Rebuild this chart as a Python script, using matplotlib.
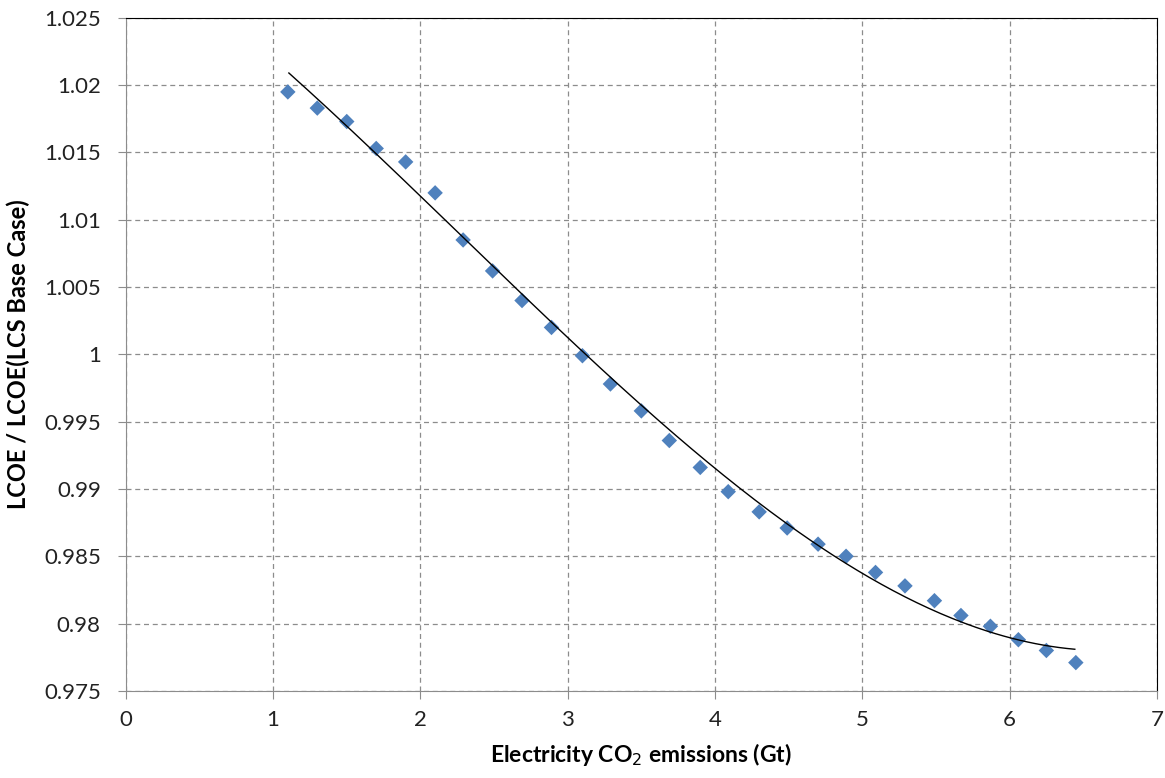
import numpy as np
import matplotlib.pyplot as plt

plt.rcParams['font.family'] = ['Lato', 'DejaVu Sans']

# emissions (Gt) and relative LCOE
emissions = [1.10, 1.30, 1.50, 1.70, 1.90, 2.10, 2.29, 2.49, 2.69, 2.89,
             3.10, 3.29, 3.50, 3.69, 3.90, 4.09, 4.30, 4.49, 4.70, 4.89,
             5.09, 5.29, 5.49, 5.67, 5.87, 6.06, 6.25, 6.45]
lcoe_ratio = [1.0195, 1.0183, 1.0173, 1.0153, 1.0143, 1.0120, 1.0085, 1.0062,
              1.0040, 1.0020, 0.9999, 0.9978, 0.9958, 0.9936, 0.9916, 0.9898,
              0.9883, 0.9871, 0.9859, 0.9850, 0.9838, 0.9828, 0.9817, 0.9806,
              0.9798, 0.9788, 0.9780, 0.9771]

# trendline values
trend_x = [1.107, 1.996, 2.539, 3.44, 3.897, 4.90, 5.594, 6.443]
trend_y = [1.0209, 1.0118, 1.0061, 0.9968, 0.9924, 0.9845, 0.9804, 0.9781]

x_ticks = [0, 1, 2, 3, 4, 5, 6, 7]
y_ticks = [0.975, 0.98, 0.985, 0.99, 0.995, 1, 1.005, 1.01, 1.015, 1.02, 1.025]
y_labels = ['0.975', '0.98', '0.985', '0.99', '0.995', '1', '1.005', '1.01',
            '1.015', '1.02', '1.025']

fig = plt.figure(figsize=(11.65, 7.78), dpi=100)
ax = fig.add_axes([0.108, 0.112, 0.885, 0.865])

ax.scatter(emissions, lcoe_ratio, marker='D', s=62, color='#4F81BD',
           edgecolors='none', zorder=3)

# polynomial trendline through the curve readings
coef = np.polyfit(trend_x, trend_y, 3)
xs = np.linspace(trend_x[0], trend_x[-1], 200)
ax.plot(xs, np.polyval(coef, xs), color='black', lw=1, zorder=4)

ax.set_xlim(0, 7)
ax.set_ylim(0.975, 1.025)
ax.set_xticks(x_ticks)
ax.set_yticks(y_ticks)
ax.set_yticklabels(y_labels)
ax.grid(True, color='#8c8c8c', linestyle=(0, (4, 3)), lw=0.9)
ax.set_axisbelow(True)

for side in ['top', 'right']:
    ax.spines[side].set_color('black')
for side in ['left', 'bottom']:
    ax.spines[side].set_color('#8c8c8c')
ax.tick_params(direction='out', length=6, color='#8c8c8c', labelsize=16,
               labelcolor='#222222')
ax.tick_params(axis='y', pad=12)
ax.tick_params(axis='x', pad=8)

ax.set_xlabel('Electricity CO$_2$ emissions (Gt)', fontsize=16.5,
              fontweight='bold', labelpad=8)
ax.set_ylabel('LCOE / LCOE(LCS Base Case)', fontsize=17, fontweight='bold',
              labelpad=10)

fig.savefig('out.png', dpi=100)
